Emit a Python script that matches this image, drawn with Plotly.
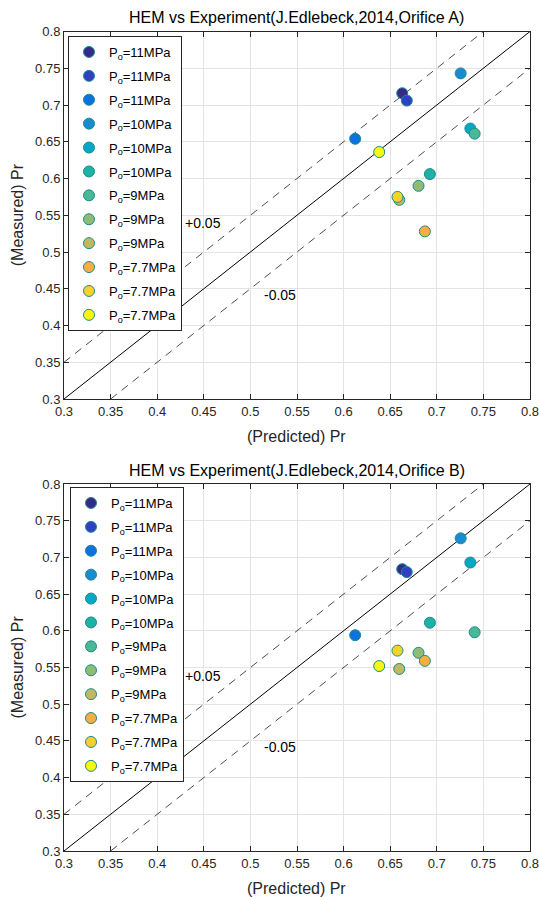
import plotly.graph_objects as go

# ---------------- data ----------------
labels = ["P<sub>o</sub>=11MPa", "P<sub>o</sub>=11MPa", "P<sub>o</sub>=11MPa",
          "P<sub>o</sub>=10MPa", "P<sub>o</sub>=10MPa", "P<sub>o</sub>=10MPa",
          "P<sub>o</sub>=9MPa", "P<sub>o</sub>=9MPa", "P<sub>o</sub>=9MPa",
          "P<sub>o</sub>=7.7MPa", "P<sub>o</sub>=7.7MPa", "P<sub>o</sub>=7.7MPa"]
colors = ["#352a87", "#2f40c4", "#0d72df", "#1a8bd0", "#06a7c6", "#1db2a6",
          "#48b895", "#8dbc73", "#c1b85f", "#f9ae42", "#f6d22b", "#f9f910"]
predicted = [0.6629, 0.6678, 0.6124, 0.7256, 0.7360, 0.6926,
             0.7406, 0.6804, 0.6597, 0.6872, 0.6578, 0.6382]
measured_A = [0.716, 0.706, 0.654, 0.743, 0.668, 0.606,
              0.661, 0.590, 0.571, 0.528, 0.575, 0.636]
measured_B = [0.684, 0.680, 0.594, 0.726, 0.693, 0.611,
              0.598, 0.570, 0.548, 0.559, 0.573, 0.552]
ref_x = [0.3, 0.8]
band = 0.05
tick_vals = [0.3, 0.35, 0.4, 0.45, 0.5, 0.55, 0.6, 0.65, 0.7, 0.75, 0.8]
tick_text = ["0.3", "0.35", "0.4", "0.45", "0.5", "0.55", "0.6", "0.65", "0.7", "0.75", "0.8"]
titles = ["HEM vs Experiment(J.Edlebeck,2014,Orifice A)",
          "HEM vs Experiment(J.Edlebeck,2014,Orifice B)"]
x_title = "(Predicted) Pr"
y_title = "(Measured) Pr"

FONT = "Liberation Sans, Arial, sans-serif"
W, H = 539, 897


def px_x(p):
    return p / W


def px_y(p):
    return 1 - p / H


fig = go.Figure()

panels = [("x", "y", "legend", measured_A, "a"), ("x2", "y2", "legend2", measured_B, "b")]
for xa, ya, lg, meas, tag in panels:
    fig.add_trace(go.Scatter(x=ref_x, y=ref_x, mode="lines", xaxis=xa, yaxis=ya,
                             line=dict(color="black", width=1), showlegend=False,
                             hoverinfo="skip"))
    fig.add_trace(go.Scatter(x=[ref_x[0], ref_x[1] - band], y=[ref_x[0] + band, ref_x[1]],
                             mode="lines", xaxis=xa, yaxis=ya,
                             line=dict(color="black", width=0.7, dash="8px,6px"),
                             showlegend=False, hoverinfo="skip"))
    fig.add_trace(go.Scatter(x=[ref_x[0] + band, ref_x[1]], y=[ref_x[0], ref_x[1] - band],
                             mode="lines", xaxis=xa, yaxis=ya,
                             line=dict(color="black", width=0.7, dash="8px,6px"),
                             showlegend=False, hoverinfo="skip"))
    for i in range(len(labels)):
        fig.add_trace(go.Scatter(x=[predicted[i]], y=[meas[i]], mode="markers",
                                 name=labels[i], xaxis=xa, yaxis=ya, legend=lg,
                                 legendgroup=f"{tag}{i}",
                                 marker=dict(size=11, color=colors[i],
                                             line=dict(color="#1f8a8c", width=1))))

axis_common = dict(range=[0.3, 0.8], tickvals=tick_vals, ticktext=tick_text,
                   showgrid=True, gridcolor="#e3e3e3", gridwidth=1,
                   showline=True, linecolor="#262626", linewidth=1, mirror="ticks",
                   ticks="inside", ticklen=5, tickcolor="#262626", automargin=False,
                   ticklabeloverflow="allow",
                   zeroline=False, tickfont=dict(size=13, color="#262626", family=FONT))

x0, x1 = 64, 530
xd = [px_x(x0), px_x(x1)]
top_px = (31.5, 399)
bot_px = (484, 851)
y_top = [px_y(top_px[1]), px_y(top_px[0])]
y_bot = [px_y(bot_px[1]), px_y(bot_px[0])]

legend_common = dict(xanchor="left", yanchor="top", bgcolor="white",
                     bordercolor="#262626", borderwidth=1, tracegroupgap=4,
                     font=dict(size=13, family=FONT, color="black"))

fig.update_layout(
    width=W, height=H,
    margin=dict(l=0, r=0, t=0, b=0),
    paper_bgcolor="white", plot_bgcolor="white",
    font=dict(family=FONT, color="#262626"),
    xaxis=dict(domain=xd, anchor="y", **axis_common),
    yaxis=dict(domain=y_top, anchor="x", **axis_common),
    xaxis2=dict(domain=xd, anchor="y2", **axis_common),
    yaxis2=dict(domain=y_bot, anchor="x2", **axis_common),
    legend=dict(x=px_x(68), y=px_y(36), **legend_common),
    legend2=dict(x=px_x(70), y=px_y(487), **legend_common),
    showlegend=True,
)

annotations = []
cx = px_x((x0 + x1) / 2)
for k, (xa, ya, (pt, pb)) in enumerate([("x", "y", top_px), ("x2", "y2", bot_px)]):
    annotations.append(dict(text=titles[k], xref="paper", yref="paper",
                            x=cx, y=px_y(pt - 14), xanchor="center",
                            yanchor="middle", showarrow=False,
                            font=dict(size=16, color="black", family=FONT)))
    annotations.append(dict(text=x_title, xref="paper", yref="paper",
                            x=cx, y=px_y(pb + 37), xanchor="center",
                            yanchor="middle", showarrow=False,
                            font=dict(size=16, color="#262626", family=FONT)))
    annotations.append(dict(text=y_title, xref="paper", yref="paper",
                            x=px_x(17), y=px_y((pt + pb) / 2), xanchor="center",
                            yanchor="middle", showarrow=False, textangle=-90,
                            font=dict(size=16, color="#262626", family=FONT)))
    annotations.append(dict(text="+0.05", xref=xa, yref=ya, x=0.449, y=0.539,
                            showarrow=False, font=dict(size=14, color="black", family=FONT)))
    annotations.append(dict(text="-0.05", xref=xa, yref=ya, x=0.532, y=0.442,
                            showarrow=False, font=dict(size=14, color="black", family=FONT)))
fig.update_layout(annotations=annotations)

# remove the default page margin so the figure fills the window exactly
page_fix = ("document.body.style.margin='0';"
            "document.documentElement.style.overflow='hidden';"
            "document.body.style.overflow='hidden';")
fig.write_html("out.html", post_script=page_fix, config={"displayModeBar": False})
